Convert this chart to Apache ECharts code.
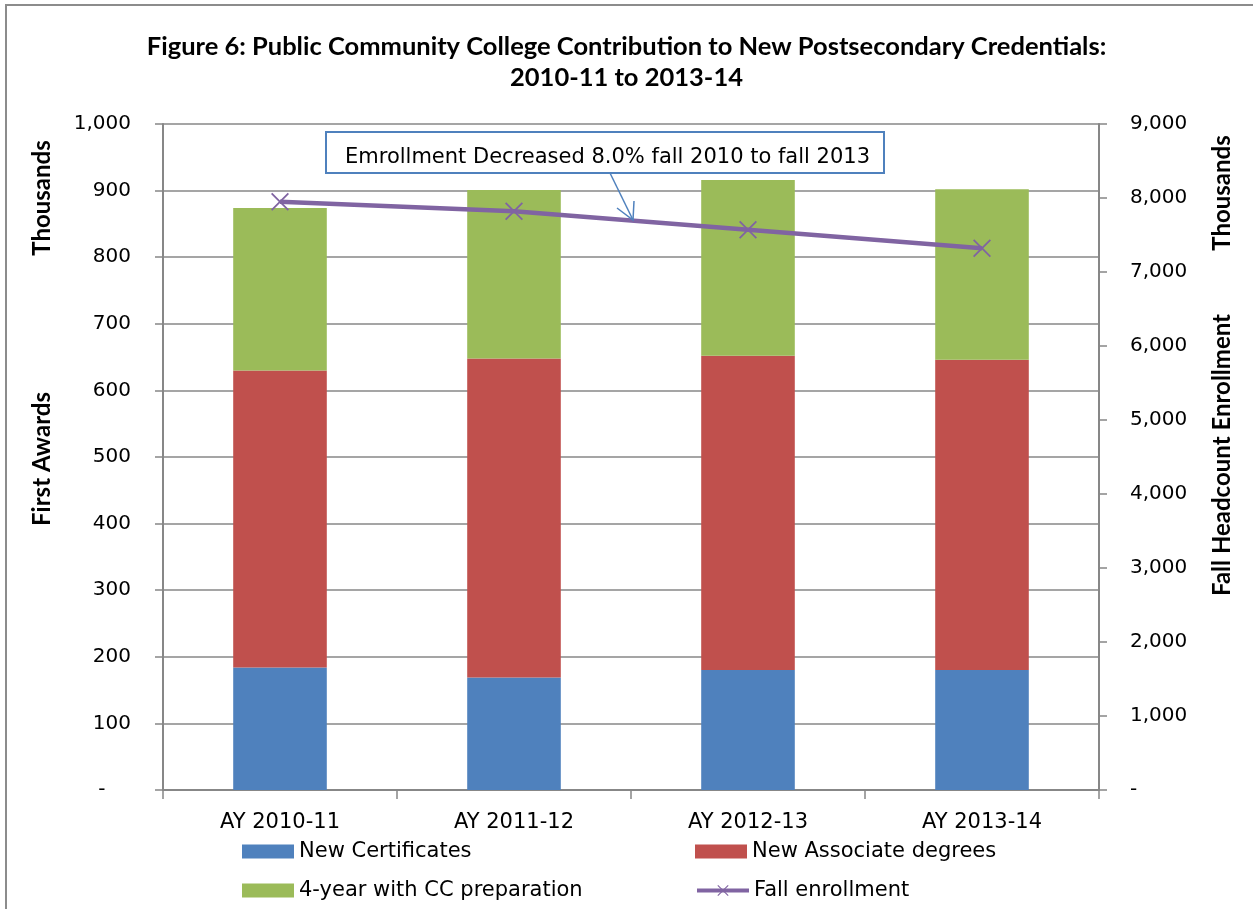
<!DOCTYPE html>
<html>
<head>
<meta charset="utf-8">
<script src="https://cdn.jsdelivr.net/npm/echarts@6/dist/echarts.min.js"></script>
<style>html,body{margin:0;padding:0;background:#fff;}#chart{width:1253px;height:909px;}</style>
</head>
<body>
<div id="chart"></div>
<script>
const categories = ['AY 2010-11', 'AY 2011-12', 'AY 2012-13', 'AY 2013-14'];
const newCertificates = [184, 169, 180, 180];
const newAssociate = [446, 479, 472, 466];
const fourYearCC = [244, 253, 264, 256];
const fallEnrollment = [7950, 7820, 7570, 7320];
const leftTicks = { min: 0, max: 1000, interval: 100 };
const rightTicks = { min: 0, max: 9000, interval: 1000 };

const FONT = 'DejaVu Sans';
const TITLE_FONT = 'Lato';
const GRID_COLOR = '#878787';
const X_PATH = 'path://M0,1.4 L1.4,0 L10,8.6 L18.6,0 L20,1.4 L11.4,10 L20,18.6 L18.6,20 L10,11.4 L1.4,20 L0,18.6 L8.6,10 Z';

const chart = echarts.init(document.getElementById('chart'), null, { renderer: 'canvas' });

function fmt(v) { return v.toLocaleString('en-US'); }

const legendBase = {
  itemWidth: 52, itemHeight: 14, itemGap: 0,
  textStyle: { fontFamily: FONT, fontSize: 21, color: '#000' },
  lineStyle: { width: 4 },
  selectedMode: false
};

chart.setOption({
  animation: false,
  backgroundColor: '#fff',
  title: {
    text: 'Figure 6: Public Community College Contribution to New Postsecondary Credentials:\n2010-11 to 2013-14',
    left: 'center', top: 26,
    textStyle: { fontFamily: TITLE_FONT, fontWeight: 'bold', fontSize: 25.5, lineHeight: 31, color: '#000' }
  },
  grid: { left: 163, right: 154, top: 124, bottom: 119 },
  legend: [
    Object.assign({ data: [{ name: 'New Certificates', icon: 'rect' }], left: 237, top: 836 }, legendBase),
    Object.assign({ data: [{ name: 'New Associate degrees', icon: 'rect' }], left: 690, top: 836 }, legendBase),
    Object.assign({ data: [{ name: '4-year with CC preparation', icon: 'rect' }], left: 237, top: 875 }, legendBase),
    Object.assign({ data: ['Fall enrollment'], left: 690, top: 875 }, legendBase)
  ],
  xAxis: {
    type: 'category', data: categories, boundaryGap: true,
    axisLine: { lineStyle: { color: GRID_COLOR, width: 2 } },
    axisTick: { show: true, length: 9, lineStyle: { color: GRID_COLOR, width: 1.5 } },
    axisLabel: { fontFamily: FONT, fontSize: 21, color: '#000', margin: 22 }
  },
  yAxis: [
    {
      type: 'value', min: leftTicks.min, max: leftTicks.max, interval: leftTicks.interval,
      axisLine: { show: true, lineStyle: { color: GRID_COLOR, width: 2 } },
      axisTick: { show: true, length: 8, lineStyle: { color: GRID_COLOR, width: 1.5 } },
      splitLine: { show: true, lineStyle: { color: GRID_COLOR, width: 1.5 } },
      axisLabel: { fontFamily: FONT, fontSize: 20, color: '#000', margin: 32,
        formatter: v => v === 0 ? '-    ' : fmt(v) }
    },
    {
      type: 'value', min: rightTicks.min, max: rightTicks.max, interval: rightTicks.interval,
      position: 'right',
      axisLine: { show: true, lineStyle: { color: GRID_COLOR, width: 2 } },
      axisTick: { show: true, length: 8, lineStyle: { color: GRID_COLOR, width: 1.5 } },
      splitLine: { show: false },
      axisLabel: { fontFamily: FONT, fontSize: 20, color: '#000', margin: 31,
        formatter: v => v === 0 ? '-' : fmt(v) }
    }
  ],
  series: [
    { name: 'New Certificates', type: 'bar', stack: 'awards', barWidth: '40%',
      itemStyle: { color: '#4F81BD' }, data: newCertificates },
    { name: 'New Associate degrees', type: 'bar', stack: 'awards', barWidth: '40%',
      itemStyle: { color: '#C0504D' }, data: newAssociate },
    { name: '4-year with CC preparation', type: 'bar', stack: 'awards', barWidth: '40%',
      itemStyle: { color: '#9BBB59' }, data: fourYearCC },
    { name: 'Fall enrollment', type: 'line', yAxisIndex: 1, z: 5,
      symbol: X_PATH, symbolSize: 18, showAllSymbol: true,
      lineStyle: { color: '#8064A2', width: 4.5 },
      itemStyle: { color: '#8064A2' },
      data: fallEnrollment }
  ],
  graphic: [
    { type: 'rect', shape: { x: 6, y: 5, width: 1300, height: 950 }, silent: true,
      style: { fill: 'none', stroke: '#8c8c8c', lineWidth: 2 }, z: -10 },
    { type: 'text', x: 42, y: 198, rotation: Math.PI / 2,
      style: { text: 'Thousands', fontFamily: TITLE_FONT, fontWeight: 'bold', fontSize: 24, fill: '#000', textAlign: 'center', textVerticalAlign: 'middle' } },
    { type: 'text', x: 42, y: 459, rotation: Math.PI / 2,
      style: { text: 'First Awards', fontFamily: TITLE_FONT, fontWeight: 'bold', fontSize: 24, fill: '#000', textAlign: 'center', textVerticalAlign: 'middle' } },
    { type: 'text', x: 1222, y: 193, rotation: Math.PI / 2,
      style: { text: 'Thousands', fontFamily: TITLE_FONT, fontWeight: 'bold', fontSize: 24, fill: '#000', textAlign: 'center', textVerticalAlign: 'middle' } },
    { type: 'text', x: 1222, y: 455, rotation: Math.PI / 2,
      style: { text: 'Fall Headcount Enrollment', fontFamily: TITLE_FONT, fontWeight: 'bold', fontSize: 24, fill: '#000', textAlign: 'center', textVerticalAlign: 'middle' } },
    { type: 'rect', shape: { x: 326, y: 132, width: 558, height: 41 }, z: 20,
      style: { fill: '#fff', stroke: '#4F81BD', lineWidth: 2 } },
    { type: 'text', x: 345, y: 158, z: 21,
      style: { text: 'Emrollment Decreased 8.0% fall 2010 to fall 2013', fontFamily: FONT, fontSize: 21, fill: '#000', textAlign: 'left', textVerticalAlign: 'middle' } },
    { type: 'line', shape: { x1: 610, y1: 173, x2: 633, y2: 220 }, z: 20,
      style: { stroke: '#4F81BD', lineWidth: 1.5 } },
    { type: 'polyline', shape: { points: [[617, 208], [633, 220], [634, 201]] }, z: 20,
      style: { stroke: '#4F81BD', lineWidth: 1.5, fill: 'none' } }
  ]
});
</script>
</body>
</html>
